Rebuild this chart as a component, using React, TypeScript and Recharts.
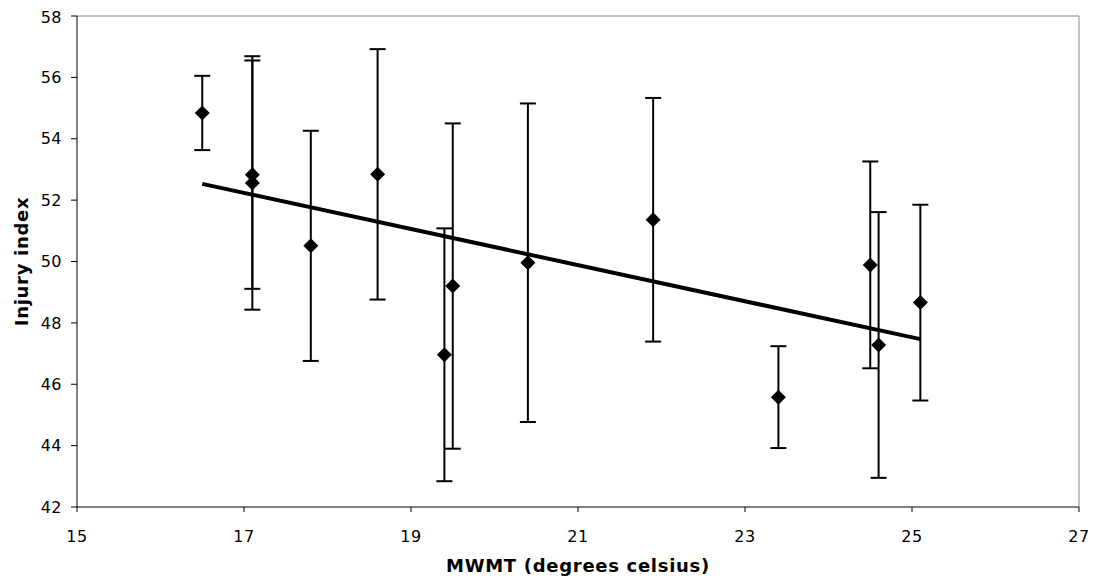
import React from 'react';
import { ScatterChart, Scatter, XAxis, YAxis, ErrorBar, ReferenceLine } from 'recharts';

// Mean warmest month temperature vs. injury index, with error bars
const mwmt = [16.5, 17.1, 17.1, 17.8, 18.6, 19.4, 19.5, 20.4, 21.9, 23.4, 24.5, 24.6, 25.1];
const injury = [54.84, 52.83, 52.56, 50.51, 52.84, 46.96, 49.2, 49.96, 51.36, 45.58, 49.89, 47.28, 48.66];
const errors = [1.21, 3.72, 4.13, 3.75, 4.08, 4.12, 5.3, 5.19, 3.97, 1.66, 3.37, 4.33, 3.19];

// Linear trend line end points
const trendX = [16.5, 25.1];
const trendY = [52.53, 47.47];

const xTicks = [15, 17, 19, 21, 23, 25, 27];
const yTicks = [42, 44, 46, 48, 50, 52, 54, 56, 58];

const points = mwmt.map((x, i) => ({ x, y: injury[i], err: errors[i] }));
const trend = trendX.map((x, i) => ({ x, y: trendY[i] }));

const FONT = '"DejaVu Sans", Verdana, sans-serif';

const Diamond = (props: any) => {
  const { cx, cy } = props;
  const r = 7.5;
  return (
    <path
      d={`M${cx},${cy - r}L${cx + r},${cy}L${cx},${cy + r}L${cx - r},${cy}Z`}
      fill="#000"
    />
  );
};

const NoShape = () => <g />;

export default function App() {
  return (
    <div style={{ width: 1088, height: 577, background: '#fff' }}>
      <ScatterChart
        width={1088}
        height={577}
        margin={{ top: 8, right: 17, bottom: 0, left: 0 }}
        style={{ fontFamily: FONT }}
      >
        <XAxis
          type="number"
          dataKey="x"
          domain={[15, 27]}
          ticks={xTicks}
          height={78}
          tickSize={5}
          tickMargin={19}
          stroke="#000"
          tick={{ fill: '#000', fontSize: 16, fontFamily: FONT, letterSpacing: 0.5 }}
          allowDataOverflow
          label={{
            content: (p: any) => {
              const vb = p.viewBox;
              return (
                <text
                  x={vb.x + vb.width / 2}
                  y={vb.y + 65}
                  textAnchor="middle"
                  fontSize={18}
                  fontWeight="bold"
                  letterSpacing={0.7}
                  fontFamily={FONT}
                  fill="#000"
                >
                  MWMT (degrees celsius)
                </text>
              );
            },
          }}
        />
        <YAxis
          type="number"
          dataKey="y"
          domain={[42, 58]}
          ticks={yTicks}
          width={69}
          tickSize={6}
          tickMargin={9}
          stroke="#000"
          tick={{ fill: '#000', fontSize: 16, fontFamily: FONT, letterSpacing: 0.5 }}
          allowDataOverflow
          label={{
            content: (p: any) => {
              const vb = p.viewBox;
              const cx = 13;
              const cy = vb.y + vb.height / 2;
              return (
                <text
                  x={cx}
                  y={cy}
                  transform={`rotate(-90 ${cx} ${cy})`}
                  textAnchor="middle"
                  dominantBaseline="central"
                  fontSize={18}
                  fontWeight="bold"
                  letterSpacing={0.7}
                  fontFamily={FONT}
                  fill="#000"
                >
                  Injury index
                </text>
              );
            },
          }}
        />
        <ReferenceLine y={58} stroke="#888" strokeWidth={1} />
        <ReferenceLine x={27} stroke="#888" strokeWidth={1} />
        <Scatter data={points} shape={Diamond} isAnimationActive={false}>
          <ErrorBar dataKey="err" direction="y" width={8} stroke="#000" strokeWidth={2} />
        </Scatter>
        <Scatter
          data={trend}
          shape={NoShape}
          line={{ stroke: '#000', strokeWidth: 4 }}
          lineType="joint"
          isAnimationActive={false}
        />
      </ScatterChart>
    </div>
  );
}
